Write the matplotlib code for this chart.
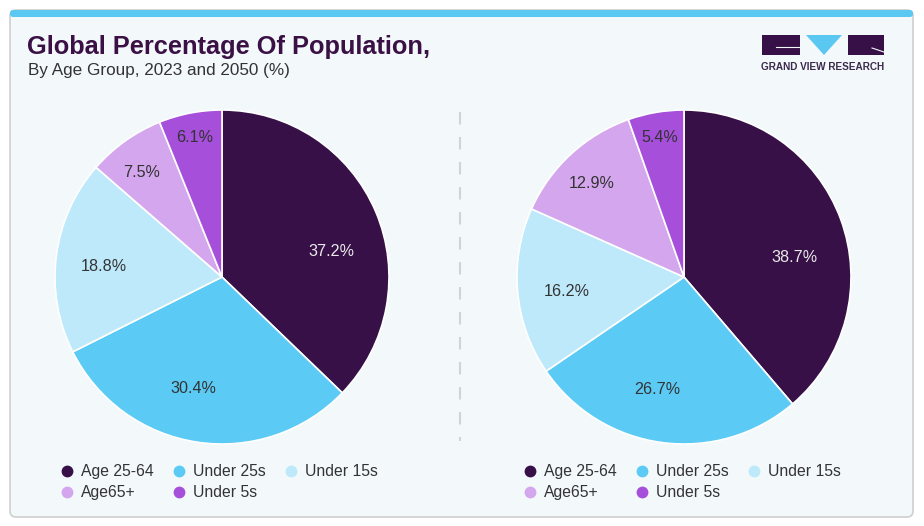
import numpy as np
import matplotlib.pyplot as plt
from matplotlib.patches import FancyBboxPatch, Rectangle, Polygon
from matplotlib.lines import Line2D

# data
categories = ['Age 25-64', 'Under 25s', 'Under 15s', 'Age65+', 'Under 5s']
share_2023 = [37.2, 30.4, 18.8, 7.5, 6.1]
share_2050 = [38.7, 26.7, 16.2, 12.9, 5.4]

colors = ['#361047', '#5BCBF5', '#BDE9FA', '#D4A6EE', '#A64FDB']
label_colors = ['#EAEAEA', '#333333', '#333333', '#333333', '#333333']
label_dist = [0.67, 0.69, 0.71, 0.79, 0.85]
label_shift = [-10, -6, 2, 2, 0]   # degrees, clockwise negative

plt.rcParams['font.family'] = ['Liberation Sans', 'DejaVu Sans']

W, H = 924, 526
fig = plt.figure(figsize=(W / 100, H / 100), dpi=100)
fig.patch.set_facecolor('white')

# card background
bg = fig.add_axes([0, 0, 1, 1])
bg.set_xlim(0, W)
bg.set_ylim(H, 0)
bg.axis('off')
bg.add_patch(FancyBboxPatch((10, 10), 903, 507, boxstyle='round,pad=0,rounding_size=6',
                            fc='#F3F8FB', ec='#CFCFCF', lw=1.2))
bg.add_patch(FancyBboxPatch((10, 10), 903, 7, boxstyle='round,pad=0,rounding_size=3',
                            fc='#5BC8F2', ec='none'))

bg.text(27, 47, 'Global Percentage Of Population,', fontsize=18.3, fontweight='heavy',
        color='#3A1045', va='center', ha='left')
bg.text(28, 71, 'By Age Group, 2023 and 2050 (%)', fontsize=12.3, color='#333333',
        va='center', ha='left')

# logo
logo_c = '#361047'
bg.add_patch(Rectangle((762, 35), 38, 20, fc=logo_c, ec='none'))
bg.add_patch(Polygon([(806, 35), (842, 35), (824, 55)], closed=True, fc='#5BC8F2', ec='none'))
bg.add_patch(Rectangle((848, 35), 36, 20, fc=logo_c, ec='none'))
bg.plot([776, 800], [47, 47], color='#F3F8FB', lw=0.8)
bg.plot([872, 884], [48, 52], color='#F3F8FB', lw=0.8)
bg.text(823, 67, 'GRAND VIEW RESEARCH', fontsize=7.2, fontweight='bold', color='#3C2A4D',
        ha='center', va='center')

# divider
bg.plot([460, 460], [112, 441], color='#D3D3D3', lw=1.5, ls=(0, (6, 6)))

r_px = 167
cy = 277


def draw_pie(cx, values, legend_x):
    ax = fig.add_axes([(cx - r_px) / W, (H - cy - r_px) / H, 2 * r_px / W, 2 * r_px / H])
    wedges, _ = ax.pie(values, colors=colors, startangle=90, counterclock=False,
                       wedgeprops=dict(edgecolor='white', linewidth=1.2))
    ax.set_xlim(-1, 1)
    ax.set_ylim(-1, 1)
    ax.set_aspect('equal')
    for i, w in enumerate(wedges):
        ang = np.deg2rad((w.theta1 + w.theta2) / 2 + label_shift[i])
        d = label_dist[i]
        ax.text(d * np.cos(ang), d * np.sin(ang), f'{values[i]:.1f}%', ha='center',
                va='center', fontsize=11.6, color=label_colors[i])

    handles = [Line2D([], [], marker='o', ls='none', ms=8.5, mfc=c, mec='none') for c in colors]
    order = [0, 3, 1, 4, 2]
    leg = fig.legend([handles[i] for i in order], [categories[i] for i in order],
                     loc='upper left', bbox_to_anchor=(legend_x / W, 1 - 464 / H), ncol=3,
                     frameon=False, fontsize=11.3, handlelength=0.8, handletextpad=0.45,
                     columnspacing=1.25, labelspacing=0.4, borderaxespad=0, borderpad=0)
    for t in leg.get_texts():
        t.set_color('#333333')


draw_pie(222, share_2023, 61)
draw_pie(684, share_2050, 524)

fig.savefig('out.png', dpi=100, facecolor='white')
